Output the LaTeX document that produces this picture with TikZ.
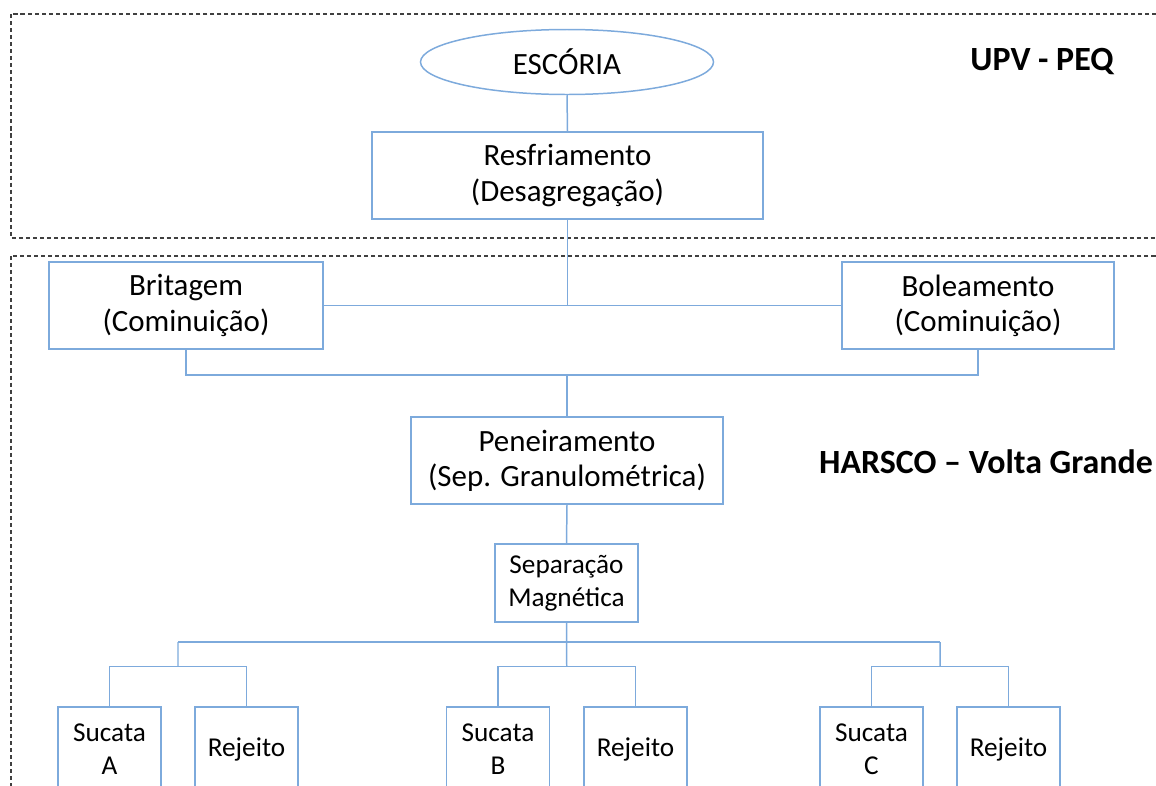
\documentclass[tikz,border=0pt]{standalone}
\usepackage{fontspec}
\setmainfont{Carlito}
\usetikzlibrary{shapes.geometric,calc}

\definecolor{boxblue}{RGB}{125,170,220}

\begin{document}
\begin{tikzpicture}[
  box/.style={draw=boxblue, line width=0.85pt, align=center, inner sep=0pt,
    minimum height=1.74cm, font=\fontsize{17.6}{20}\selectfont},
  smallbox/.style={box, font=\fontsize{15.5}{18.5}\selectfont},
  link/.style={draw=boxblue, line width=0.85pt},
  zone/.style={draw=black!75, line width=0.6pt, dash pattern=on 2.3pt off 1.7pt},
  zonelabel/.style={font=\fontsize{19.3}{23}\selectfont\bfseries}
]
  \useasboundingbox (0,0) rectangle (23.12,-15.7);
  \clip (0,0) rectangle (23.12,-15.7);

  % zones
  \draw[zone] (0.22,-0.28) rectangle (23.5,-4.76);
  \draw[zone] (0.22,-5.12) rectangle (23.5,-16.2);
  \node[zonelabel] (upv) at (20.84,-1.24) {UPV - PEQ};
  \node[zonelabel] (harsco) at (19.72,-9.24) {HARSCO -- Volta Grande};

  % process
  \node[ellipse, draw=boxblue, line width=0.85pt, minimum width=5.86cm, minimum height=1.3cm,
    font=\fontsize{17.6}{20}\selectfont] (esc) at (11.34,-1.24) {ESCÓRIA};
  \node[box, minimum width=7.82cm] (resf) at (11.35,-3.51) {Resfriamento\\(Desagregação)};
  \node[box, minimum width=5.48cm] (brit) at (3.72,-6.11) {Britagem\\(Cominuição)};
  \node[box, minimum width=5.44cm] (bole) at (19.56,-6.11) {Boleamento\\(Cominuição)};
  \node[box, minimum width=6.24cm] (pen) at (11.34,-9.21) {Peneiramento\\(Sep. Granulométrica)};
  \node[smallbox, minimum width=2.86cm, minimum height=1.56cm] (sep) at (11.33,-11.66) {Separação\\Magnética};

  \node[smallbox, minimum width=2.06cm, minimum height=1.68cm] (sucA) at (2.19,-14.98) {Sucata\\A};
  \node[smallbox, minimum width=2.06cm, minimum height=1.68cm] (rejA) at (4.93,-14.98) {Rejeito};
  \node[smallbox, minimum width=2.06cm, minimum height=1.68cm] (sucB) at (9.96,-14.98) {Sucata\\B};
  \node[smallbox, minimum width=2.06cm, minimum height=1.68cm] (rejB) at (12.71,-14.98) {Rejeito};
  \node[smallbox, minimum width=2.06cm, minimum height=1.68cm] (sucC) at (17.43,-14.98) {Sucata\\C};
  \node[smallbox, minimum width=2.06cm, minimum height=1.68cm] (rejC) at (20.17,-14.98) {Rejeito};

  % connectors
  \draw[link] (esc.south) -- (resf.north);
  \draw[link] (resf.south) -- (resf.south |- brit.east);
  \draw[link] (brit.east) -- (bole.west);
  \draw[link] (brit.south) -- ++(0,-0.5) coordinate (mix) -| (bole.south);
  \draw[link] (mix -| pen.north) -- (pen.north);
  \draw[link] (pen.south) -- (sep.north);
  \coordinate (busA) at (3.56,-12.84);
  \coordinate (busC) at (18.8,-12.84);
  \draw[link] (busA) -- (busC);
  \foreach \s/\r in {sucA/rejA, sucB/rejB, sucC/rejC} {
    \draw[link] (\s.north) -- ++(0,0.8) coordinate (top-\s) -| (\r.north);
  }
  \draw[link] (sep.south) -- ($(top-sucB)!0.5!(top-sucB -| rejB.north)$);
  \draw[link] (busA) -- ($(top-sucA)!0.5!(top-sucA -| rejA.north)$);
  \draw[link] (busC) -- ($(top-sucC)!0.5!(top-sucC -| rejC.north)$);
\end{tikzpicture}
\end{document}
